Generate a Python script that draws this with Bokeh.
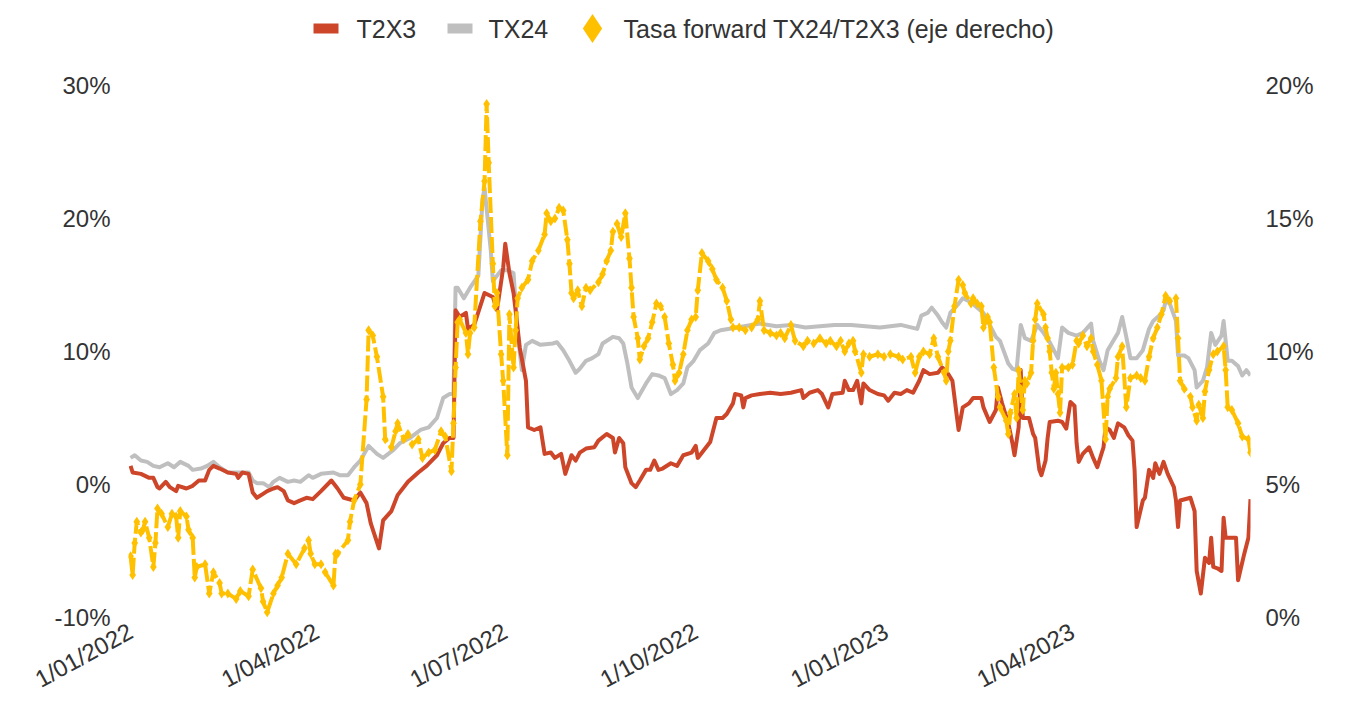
import pandas as pd
from bokeh.plotting import figure
from bokeh.models import (Range1d, LinearAxis, FixedTicker, PrintfTickFormatter,
                          ColumnDataSource)
from bokeh.layouts import column
from bokeh.embed import file_html
from bokeh.resources import INLINE

# ---------------- data (day offset from 1/01/2022, value in %) ----------------
inicio = "2022-01-01"
tick_fechas = ["2022-01-01", "2022-04-01", "2022-07-01", "2022-10-01", "2023-01-01", "2023-04-01"]
tick_labels = ["1/01/2022", "1/04/2022", "1/07/2022", "1/10/2022", "1/01/2023", "1/04/2023"]
izq_ticks = [-10, 0, 10, 20, 30]
der_ticks = [0, 5, 10, 15, 20]

series_names = ["T2X3", "TX24", "Tasa forward TX24/T2X3 (eje derecho)"]

t2x3 = [(0,1.4),(1,0.9),(5,0.8),(9,0.5),(11,0.5),(13,-0.2),(14,-0.3),(17,0.2),(19,-0.2),(22,-0.5),
        (23,-0.1),(27,-0.3),(30,-0.1),(33,0.3),(36,0.3),(38,1.1),(40,1.4),(43,1.2),(47,0.9),(51,0.8),
        (52,0.5),(54,0.9),(57,0.8),(59,-0.6),(61,-1.0),(64,-0.7),(66,-0.5),(69,-0.3),(71,-0.2),(74,-0.5),
        (76,-1.2),(79,-1.4),(82,-1.2),(85,-1.0),(88,-1.1),(92,-0.5),(97,0.3),(100,-0.3),(103,-1.0),(108,-1.2),
        (111,-0.6),(114,-1.4),(116,-2.9),(120,-4.8),(122,-2.7),(126,-2.0),(129,-0.8),(134,0.2),(139,0.9),(143,1.4),
        (148,2.2),(151,3.1),(154,3.5),(156,3.5),(157,13.1),(159,12.6),(162,12.9),(163,11.7),(166,12.0),(171,14.4),
        (175,14.1),(177,13.1),(180,16.3),(181,18.1),(183,15.9),(185,14.4),(186,13.1),(188,10.3),(191,7.8),(192,4.3),
        (195,4.1),(198,4.3),(200,2.3),(203,2.4),(205,2.0),(208,2.3),(210,0.8),(213,2.2),(215,1.8),(217,2.4),
        (220,2.7),(224,2.8),(226,3.3),(230,3.8),(233,3.5),(234,2.4),(236,3.5),(238,3.1),(239,1.3),(242,0.1),
        (244,-0.2),(246,0.3),(249,1.1),(251,1.1),(253,1.8),(255,1.1),(257,1.2),(261,1.6),(264,1.4),(267,2.2),
        (271,2.4),(273,2.9),(274,2.0),(277,2.6),(280,3.2),(283,5.0),(286,5.0),(288,5.3),(291,6.1),(292,6.8),
        (295,6.7),(296,5.8),(297,6.5),(300,6.7),(304,6.8),(309,6.9),(314,6.8),(319,6.9),(324,7.1),(325,6.5),
        (328,6.9),(332,7.1),(334,6.8),(337,5.8),(339,6.8),(344,6.9),(345,7.8),(347,7.1),(349,7.1),(351,7.8),
        (353,6.1),(354,7.6),(357,7.1),(361,6.8),(364,6.7),(366,6.3),(369,6.9),(372,6.8),(375,7.1),(378,6.9),
        (381,7.8),(383,8.6),(386,8.3),(390,8.4),(392,8.8),(395,8.3),(397,7.8),(399,5.3),(400,4.1),(402,5.8),
        (405,6.1),(407,6.5),(411,6.5),(412,5.8),(415,4.7),(418,5.6),(419,7.3),(421,6.1),(424,4.6),(426,3.1),
        (427,2.2),(429,4.3),(430,8.6),(431,5.0),(434,5.0),(436,3.8),(437,3.5),(439,1.1),(440,0.7),(442,1.8),
        (443,3.5),(444,4.7),(448,4.8),(450,4.7),(452,4.2),(454,6.2),(456,5.9),(457,3.1),(458,1.7),(460,2.3),
        (463,2.8),(465,2.0),(467,1.3),(470,2.8),(471,4.3),(473,4.1),(475,3.5),(477,4.6),(480,4.3),(482,3.7),
        (484,3.3),(485,1.1),(486,-3.2),(489,-1.2),(490,-1.0),(492,1.1),(494,0.5),(495,1.6),(497,0.8),(499,1.7),
        (501,0.8),(504,-0.2),(505,-1.2),(506,-3.2),(507,-1.2),(512,-1.0),(514,-2.0),(515,-6.5),(517,-8.2),(519,-5.5),
        (521,-5.9),(522,-4.0),(523,-6.2),(525,-6.3),(527,-6.5),(528,-2.5),(529,-4.0),(534,-4.0),(535,-7.2),(538,-5.2),
        (540,-4.0),(541,-1.1)]

tx24 = [(0,2.0),(2,2.2),(5,1.8),(8,1.7),(11,1.4),(14,1.3),(18,1.6),(21,1.3),(24,1.7),(28,1.4),
        (30,1.1),(34,1.2),(37,1.4),(40,1.7),(43,1.3),(47,0.9),(50,0.9),(57,0.9),(59,0.3),(61,0.1),
        (64,0.1),(67,-0.2),(69,0.2),(72,0.5),(76,0.2),(79,0.3),(82,0.2),(86,0.7),(88,0.5),(92,0.8),
        (98,0.9),(101,0.7),(105,0.7),(108,1.3),(111,1.8),(115,2.9),(119,2.3),(122,2.0),(127,2.6),(130,3.1),
        (135,3.5),(140,4.1),(144,4.3),(148,5.0),(151,6.5),(154,6.8),(156,6.8),(157,14.8),(158,14.8),(161,14.0),
        (164,14.8),(168,15.7),(170,21.4),(171,22.3),(174,17.6),(175,15.3),(179,16.1),(182,16.1),(185,15.9),(187,11.4),
        (189,8.6),(191,10.5),(194,10.8),(198,10.5),(204,10.6),(206,10.7),(209,10.1),(212,9.3),(215,8.4),(217,8.7),
        (220,9.3),(223,9.5),(226,9.8),(228,10.6),(233,11.1),(236,11.0),(238,10.6),(240,9.1),(242,7.3),(245,6.5),
        (249,7.6),(252,8.3),(255,8.2),(258,8.0),(261,6.8),(264,7.1),(267,7.6),(269,8.8),(272,9.3),(275,10.1),
        (279,10.6),(282,11.4),(285,11.6),(293,11.8),(304,12.1),(312,11.9),(319,12.0),(326,11.8),(333,11.9),(340,12.0),
        (348,12.0),(355,11.9),(362,11.8),(372,12.0),(380,11.7),(382,12.7),(385,12.9),(387,13.3),(390,12.7),(392,12.2),
        (394,11.8),(396,12.9),(400,13.6),(402,14.0),(406,13.7),(409,13.3),(412,12.9),(415,12.0),(418,11.1),(420,10.8),
        (424,9.1),(426,8.7),(428,8.6),(430,12.0),(432,11.0),(435,10.8),(438,12.0),(441,11.4),(444,10.7),(448,9.5),
        (450,11.8),(453,11.4),(457,11.2),(460,11.4),(464,12.1),(465,10.8),(468,9.3),(470,8.6),(472,10.1),(477,11.4),
        (479,12.6),(481,11.1),(483,9.5),(486,9.5),(489,10.1),(492,11.7),(494,12.3),(497,12.7),(499,13.1),(500,13.8),
        (502,13.6),(505,12.3),(506,9.7),(509,9.7),(511,9.5),(514,8.6),(515,7.3),(518,7.8),(520,8.8),(522,11.4),
        (524,10.5),(527,11.2),(528,12.3),(530,9.3),(532,9.3),(535,8.9),(537,8.2),(539,8.6),(541,8.2)]

forward = [(0,2.3),(1,1.6),(2,2.8),(3,3.6),(5,3.2),(6,3.3),(7,3.6),(9,3.0),(11,1.9),(12,2.8),
           (13,4.1),(15,3.9),(18,3.4),(20,3.9),(22,3.8),(23,3.0),(24,4.0),(27,3.8),(28,3.3),(30,3.0),
           (31,1.5),(32,1.9),(36,2.0),(38,0.9),(40,1.7),(43,1.3),(44,0.9),(47,0.9),(51,0.7),(53,1.0),
           (57,0.8),(59,1.8),(63,1.1),(64,0.6),(66,0.2),(69,0.9),(71,1.2),(73,1.5),(76,2.4),(80,2.0),
           (84,2.6),(86,2.9),(87,2.4),(89,2.0),(92,2.0),(94,1.7),(98,1.2),(99,2.4),(100,2.4),(105,2.9),
           (106,3.6),(108,4.4),(111,5.0),(114,8.2),(115,10.8),(117,10.6),(119,9.8),(122,8.3),(123,6.7),(126,6.4),
           (128,7.0),(129,7.3),(132,6.7),(134,6.9),(136,6.5),(139,6.7),(141,6.0),(144,6.2),(147,6.3),(150,7.0),
           (152,6.8),(155,5.5),(156,7.3),(157,9.4),(158,11.1),(159,11.2),(162,10.7),(163,9.9),(164,10.7),(166,10.9),
           (169,14.9),(171,16.4),(172,19.3),(173,17.1),(175,13.3),(176,11.7),(177,12.2),(179,9.9),(180,8.9),(182,6.1),
           (183,11.4),(185,9.4),(186,10.8),(187,12.0),(189,12.4),(192,12.7),(194,13.4),(197,13.8),(200,14.4),(201,15.2),
           (203,14.9),(205,15.0),(207,15.4),(209,15.3),(211,14.2),(212,13.3),(213,12.2),(214,12.0),(216,12.3),(218,11.7),
           (220,12.4),(222,12.3),(226,12.6),(228,12.9),(230,13.4),(232,13.8),(233,14.5),(235,14.8),(237,14.3),(239,15.2),
           (241,13.5),(242,12.4),(243,11.3),(245,10.5),(246,9.7),(248,10.2),(250,10.5),(252,11.1),(254,11.8),(256,11.7),
           (258,11.3),(260,10.3),(262,9.5),(263,8.9),(265,9.2),(267,9.9),(269,10.8),(271,11.2),(273,11.3),(274,12.3),
           (276,13.7),(279,13.4),(281,13.1),(283,12.7),(286,12.4),(288,11.9),(290,11.2),(291,10.9),(294,10.9),(297,10.8),
           (300,10.9),(303,11.2),(304,11.9),(306,10.8),(309,10.7),(312,10.6),(314,10.7),(316,10.5),(319,11.0),(321,10.4),
           (325,10.2),(327,10.4),(330,10.3),(333,10.5),(336,10.3),(338,10.4),(341,10.2),(343,10.4),(345,10.0),(347,10.3),
           (349,10.4),(350,10.0),(353,9.2),(354,9.9),(357,9.8),(361,9.9),(364,9.8),(367,9.9),(371,9.8),(373,9.7),
           (377,9.8),(379,9.2),(381,9.8),(383,10.0),(386,9.9),(388,10.5),(390,9.8),(393,9.2),(394,8.9),(395,10.0),
           (396,10.4),(398,11.7),(400,12.7),(402,12.5),(403,12.2),(406,11.8),(407,12.0),(409,11.8),(411,11.7),(412,10.9),
           (414,11.3),(415,11.1),(417,9.4),(419,8.3),(420,7.9),(423,7.4),(424,6.9),(425,7.7),(427,8.4),(428,7.5),
           (429,9.3),(430,8.6),(431,7.8),(432,8.9),(433,8.8),(435,9.2),(436,10.4),(437,11.2),(438,11.8),(441,11.4),
           (442,10.9),(443,10.5),(444,10.0),(445,9.2),(446,8.6),(447,9.2),(448,8.4),(449,7.7),(450,9.4),(453,9.4),
           (455,9.5),(457,10.4),(458,10.3),(460,10.6),(462,10.2),(464,10.5),(465,10.0),(467,9.5),(469,8.9),(471,6.7),
           (472,8.3),(473,8.6),(476,9.0),(477,9.8),(479,10.2),(481,7.9),(483,9.0),(486,9.1),(488,9.0),(490,8.9),
           (492,9.8),(494,10.5),(496,10.9),(498,11.4),(500,12.1),(502,11.9),(505,12.0),(506,10.5),(507,8.9),(509,8.6),
           (512,8.3),(513,7.9),(515,7.4),(516,8.0),(518,7.5),(519,8.5),(521,9.3),(523,9.9),(525,10.0),(528,10.2),
           (529,9.3),(530,7.9),(532,7.8),(535,7.3),(537,6.8),(540,6.7),(541,6.2)]

# ---------------- styling ----------------
ROJO = "#CD4629"
GRIS = "#BFBFBF"
AMARILLO = "#FFC000"
TXT = "#333333"
FONT = "Liberation Sans"
W = 1361
BL, BR = 128, 111          # frame borders (left / right)

t0 = pd.Timestamp(inicio)
tick_dias = [(pd.Timestamp(f) - t0).days for f in tick_fechas]


def src(pares):
    return ColumnDataSource(dict(dia=[d for d, _ in pares], valor=[v for _, v in pares]))


# ---------------- legend strip (frame aligned with the chart frame) ----------------
LH = 50
leg = figure(width=W, height=LH, x_range=Range1d(BL, W - BR), y_range=Range1d(0, LH),
             output_backend="svg", toolbar_location=None,
             x_axis_location=None, y_axis_location=None,
             min_border_left=BL, min_border_right=BR, min_border_top=0, min_border_bottom=0)
leg.xgrid.visible = False
leg.ygrid.visible = False
leg.outline_line_color = None
yc = LH - 28
leg.rect(x=[325.5, 459.5], y=[yc, yc], width=25, height=10,
         fill_color=[ROJO, GRIS], line_color=None)
leg.scatter(x=[592], y=[yc], marker="diamond", size=29, fill_color=AMARILLO, line_color=None)
leg.text(x=[356, 488, 623], y=[yc, yc, yc], text=series_names,
         text_font={"value": FONT}, text_font_size="25px", text_color=TXT,
         text_baseline="middle", text_align="left")

# ---------------- main chart ----------------
p = figure(width=W, height=707 - LH, x_range=Range1d(-1, 541), y_range=Range1d(-10, 30),
           output_backend="svg", toolbar_location=None,
           min_border_left=BL, min_border_right=BR, min_border_top=35, min_border_bottom=90)
p.extra_y_ranges = {"der": Range1d(0, 20)}
p.xgrid.visible = False
p.ygrid.visible = False
p.outline_line_color = None
p.background_fill_color = "white"

p.line(x="dia", y="valor", source=src(tx24), line_color=GRIS, line_width=4, line_join="round")
p.line(x="dia", y="valor", source=src(t2x3), line_color=ROJO, line_width=4, line_join="round")
fsrc = src(forward)
p.line(x="dia", y="valor", source=fsrc, y_range_name="der", line_color=AMARILLO,
       line_width=4, line_dash="16 4", line_join="round")
p.scatter(x="dia", y="valor", source=fsrc, y_range_name="der", marker="diamond",
          size=10, fill_color=AMARILLO, line_color=None)

ax_der = LinearAxis(y_range_name="der")
p.add_layout(ax_der, "right")

p.xaxis.ticker = FixedTicker(ticks=tick_dias)
p.xaxis.major_label_overrides = {d: l for d, l in zip(tick_dias, tick_labels)}
p.xaxis.major_label_orientation = 0.5
p.xaxis.major_label_standoff = 12

p.yaxis[0].ticker = FixedTicker(ticks=izq_ticks)
ax_der.ticker = FixedTicker(ticks=der_ticks)
for ax in p.yaxis:
    ax.formatter = PrintfTickFormatter(format="%d%%")
p.yaxis[0].major_label_standoff = 18
ax_der.major_label_standoff = 15

for ax in list(p.xaxis) + list(p.yaxis):
    ax.axis_line_color = None
    ax.major_tick_line_color = None
    ax.minor_tick_line_color = None
    ax.major_tick_out = 0
    ax.major_tick_in = 0
    ax.minor_tick_out = 0
    ax.major_label_text_font = FONT
    ax.major_label_text_font_size = "24px"
    ax.major_label_text_color = TXT

layout = column(leg, p)
open("out.html", "w").write(file_html(layout, INLINE, title="T2X3 TX24"))
